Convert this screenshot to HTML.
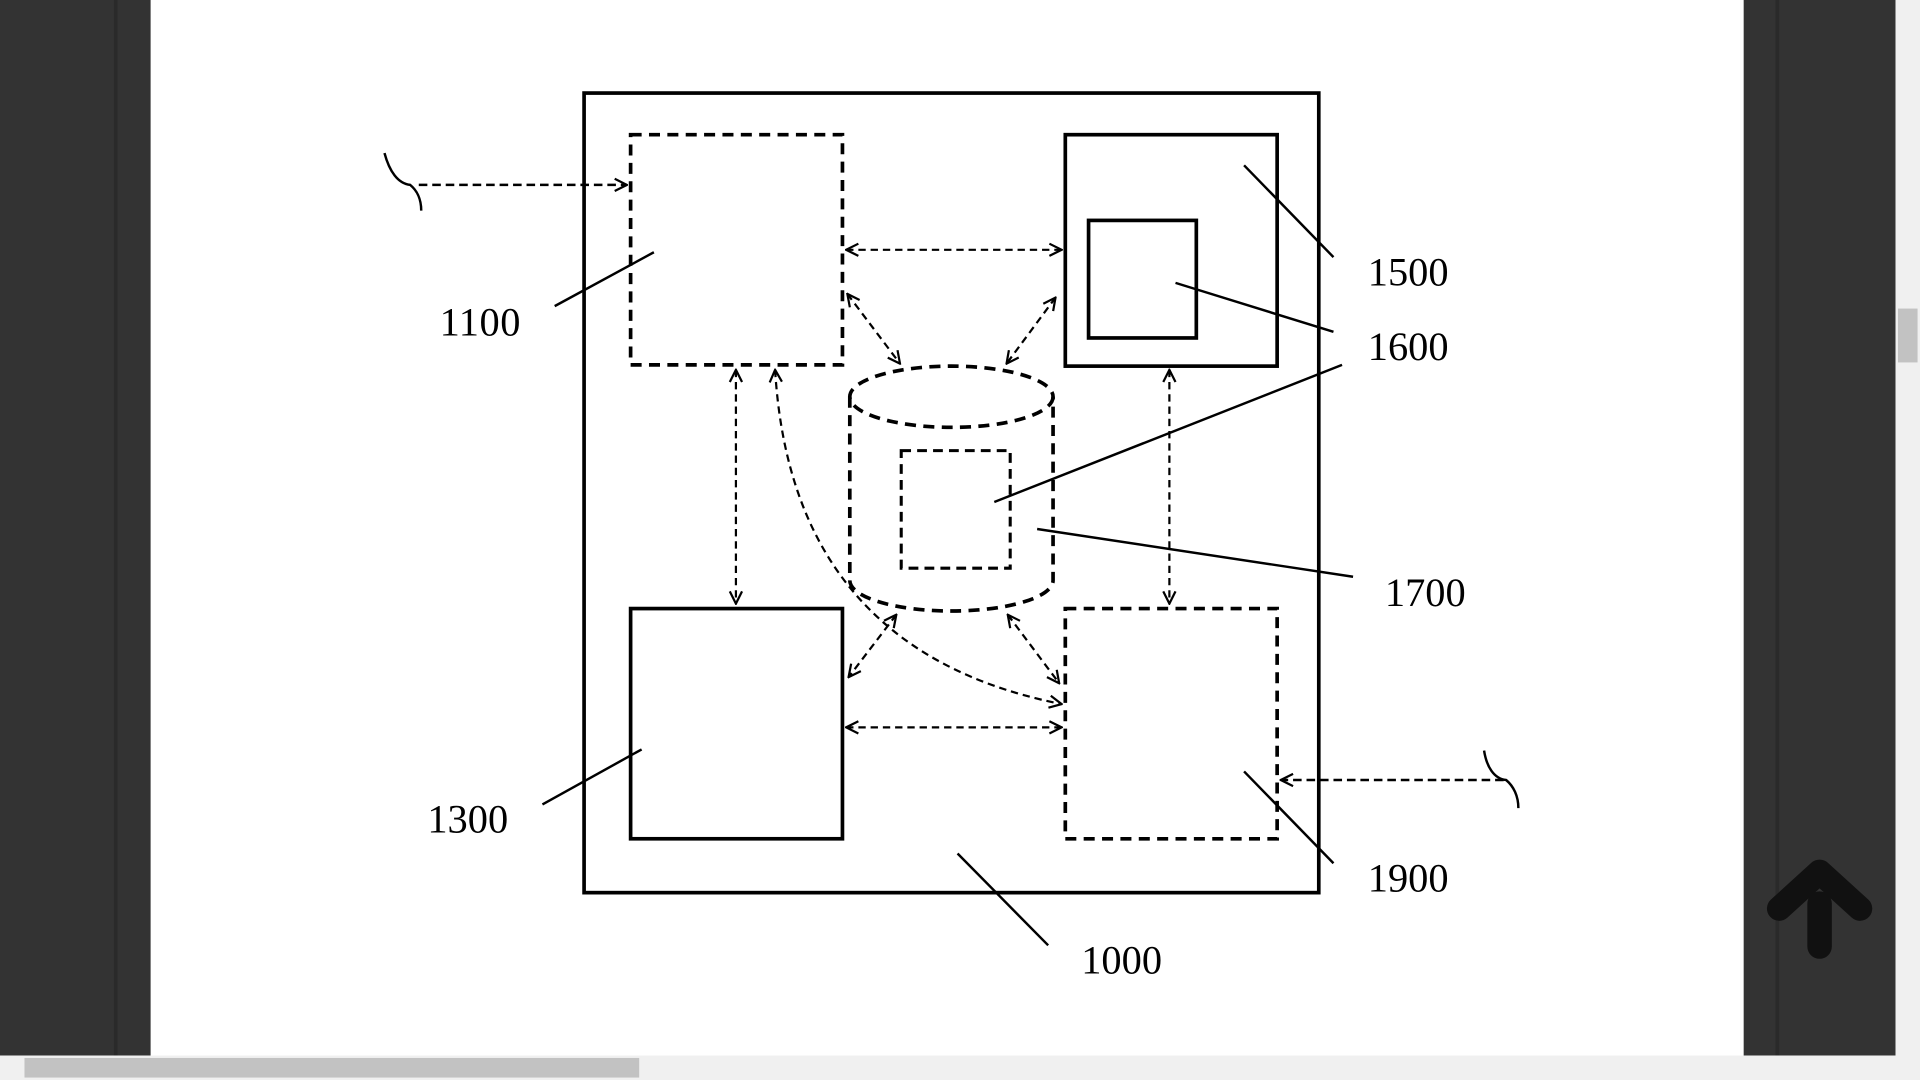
<!DOCTYPE html>
<html><head><style>html,body{margin:0;padding:0;background:#fff;overflow:hidden}svg{display:block}</style></head><body>
<svg width="1920" height="1080" viewBox="0 0 1568 882" xmlns="http://www.w3.org/2000/svg">
<defs>
<marker id="a" viewBox="0 0 12 12" refX="11" refY="6" markerWidth="12" markerHeight="12" markerUnits="userSpaceOnUse" orient="auto-start-reverse">
<path d="M1,1 L11,6 L1,11" fill="none" stroke="#000" stroke-width="1.8"/></marker>
</defs>
<rect width="1568" height="882" fill="#fff"/>
<rect x="0" y="0" width="123" height="862" fill="#333"/>
<rect x="93" y="0" width="3" height="862" fill="#2a2a2a"/>
<rect x="1424" y="0" width="124" height="862" fill="#333"/>
<rect x="1450" y="0" width="3" height="862" fill="#2a2a2a"/>
<rect x="1548" y="0" width="20" height="862" fill="#f0f0f0"/>
<rect x="1550" y="252" width="16" height="44" fill="#c2c2c2"/>
<rect x="0" y="862" width="1568" height="20" fill="#f0f0f0"/>
<rect x="20" y="864" width="502" height="16" fill="#c2c2c2"/>
<path d="M1486,773 V738 M1453,742 L1486,712 L1519,742" fill="none" stroke="#111" stroke-width="20" stroke-linecap="round" stroke-linejoin="round"/>
<g fill="none" stroke="#000">
<rect x="477" y="76" width="600" height="653" stroke-width="3"/>
<rect x="515" y="110" width="173" height="188" stroke-width="3" stroke-dasharray="9,6"/>
<rect x="870" y="110" width="173" height="189" stroke-width="3"/>
<rect x="889" y="180" width="88" height="96" stroke-width="3"/>
<rect x="515" y="497" width="173" height="188" stroke-width="3"/>
<rect x="870" y="497" width="173" height="188" stroke-width="3" stroke-dasharray="9,6"/>
<ellipse cx="777" cy="324" rx="83" ry="25" stroke-width="3" stroke-dasharray="9,6"/>
<path d="M694,324 V474 A83,25 0 0 0 860,474 V324" stroke-width="3" stroke-dasharray="9,6"/>
<rect x="736" y="368" width="89" height="96" stroke-width="2.5" stroke-dasharray="8,5"/>
<g stroke-width="1.8" stroke-dasharray="6,4" marker-start="url(#a)" marker-end="url(#a)">
<line x1="691" y1="204" x2="867" y2="204"/>
<line x1="691" y1="594" x2="867" y2="594"/>
<line x1="601" y1="302" x2="601" y2="493"/>
<line x1="955" y1="302" x2="955" y2="493"/>
<line x1="692" y1="240" x2="735" y2="297"/>
<line x1="862" y1="243" x2="822" y2="297"/>
<line x1="732" y1="502" x2="693" y2="553"/>
<line x1="823" y1="502" x2="865" y2="558"/>
<path d="M633,302 C640,420 690,540 867,575"/>
</g>
<g stroke-width="2" stroke-dasharray="7,4" marker-end="url(#a)">
<line x1="342" y1="151" x2="512" y2="151"/>
<line x1="1228" y1="637" x2="1046" y2="637"/>
</g>
<path d="M314,125 C318,140 325,150 335,151 C340,155 344,162 344,172" stroke-width="2"/>
<path d="M1212,613 C1214,626 1220,636 1230,637 C1236,642 1240,650 1240,660" stroke-width="2"/>
<g stroke-width="2">
<line x1="453" y1="250" x2="534" y2="206"/>
<line x1="443" y1="657" x2="524" y2="612"/>
<line x1="1016" y1="135" x2="1089" y2="210"/>
<line x1="960" y1="231" x2="1089" y2="271"/>
<line x1="812" y1="410" x2="1096" y2="298"/>
<line x1="847" y1="432" x2="1105" y2="471"/>
<line x1="1016" y1="630" x2="1089" y2="705"/>
<line x1="782" y1="697" x2="856" y2="772"/>
</g>
</g>
<g font-family="Liberation Serif, serif" font-size="33" fill="#000">
<text x="359" y="274" textLength="66">1100</text>
<text x="349" y="680" textLength="66">1300</text>
<text x="1117" y="233" textLength="66">1500</text>
<text x="1117" y="294" textLength="66">1600</text>
<text x="1131" y="495" textLength="66">1700</text>
<text x="1117" y="728" textLength="66">1900</text>
<text x="883" y="795" textLength="66">1000</text>
</g>
</svg>
</body></html>
